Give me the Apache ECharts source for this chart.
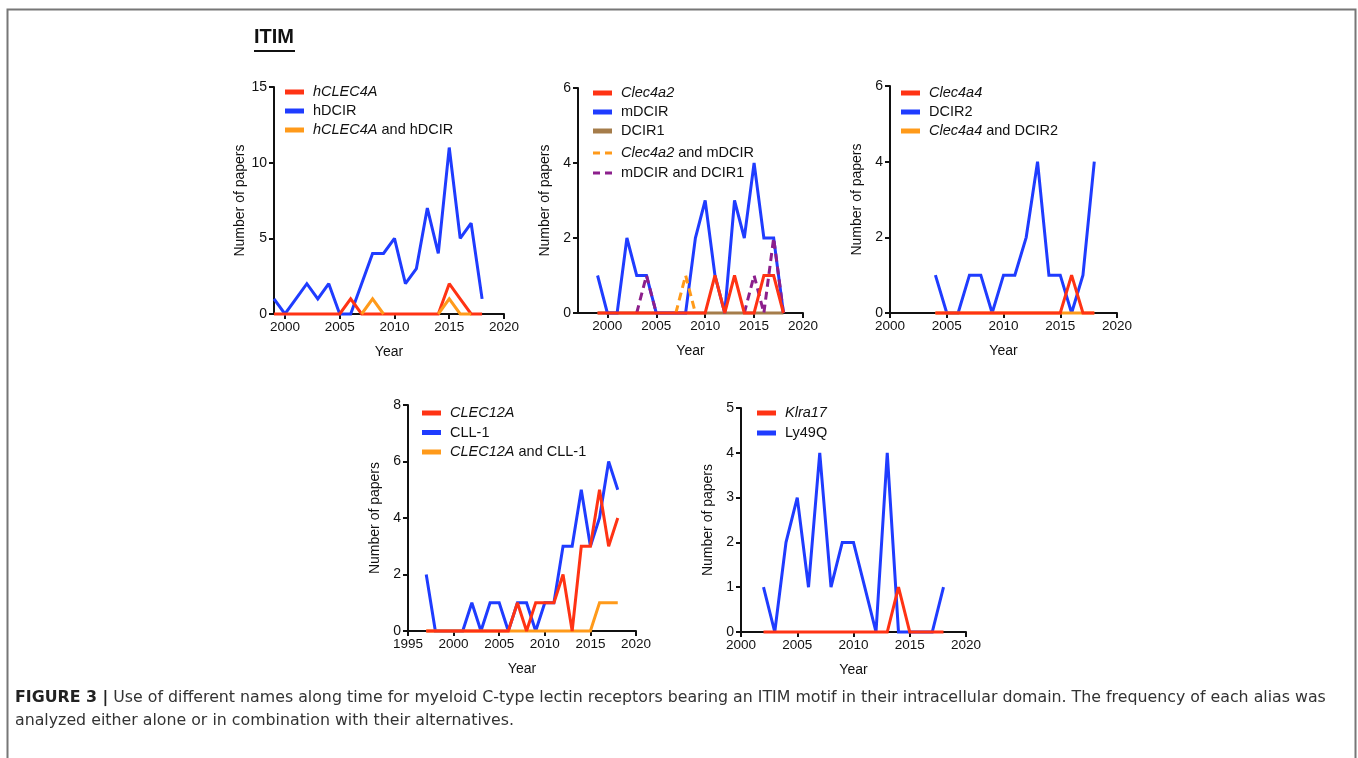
<!DOCTYPE html>
<html>
<head>
<meta charset="utf-8">
<script src="https://cdn.jsdelivr.net/npm/echarts@6/dist/echarts.min.js"></script>
<style>
html,body{margin:0;padding:0;background:#fff;}
#chart{width:1358px;height:758px;}
</style>
</head>
<body>
<div id="chart"></div>
<script>
// ---------- DATA ----------
// Panel 1: hCLEC4A / hDCIR
const p1Years   = [1999,2000,2001,2002,2003,2004,2005,2006,2007,2008,2009,2010,2011,2012,2013,2014,2015,2016,2017,2018];
const p1hCLEC4A = [0,0,0,0,0,0,0,1,0,0,0,0,0,0,0,0,2,1,0,0];
const p1hDCIR   = [1,0,1,2,1,2,0,0,2,4,4,5,2,3,7,4,11,5,6,1];
const p1Both    = [null,null,null,null,null,null,null,null,0,1,0,null,null,null,null,0,1,0,0,null];

// Panel 2: Clec4a2 / mDCIR / DCIR1
const p2Years   = [1999,2000,2001,2002,2003,2004,2005,2006,2007,2008,2009,2010,2011,2012,2013,2014,2015,2016,2017,2018];
const p2Clec4a2 = [0,0,0,0,0,0,0,0,0,0,0,0,1,0,1,0,0,1,1,0];
const p2mDCIR   = [1,0,0,2,1,1,0,0,0,0,2,3,1,0,3,2,4,2,2,0];
const p2DCIR1   = [0,0,0,0,0,0,0,0,0,0,0,0,0,0,0,0,0,0,0,0];
const p2ClecM   = [null,null,null,null,null,null,null,null,0,1,0,null,null,null,null,null,null,null,null,null];
const p2MD1     = [null,null,null,null,0,1,0,null,null,null,null,null,null,null,null,0,1,0,2,0];

// Panel 3: Clec4a4 / DCIR2
const p3Years   = [2004,2005,2006,2007,2008,2009,2010,2011,2012,2013,2014,2015,2016,2017,2018];
const p3Clec4a4 = [0,0,0,0,0,0,0,0,0,0,0,0,1,0,0];
const p3DCIR2   = [1,0,0,1,1,0,1,1,2,4,1,1,0,1,4];
const p3Both    = [0,0,0,0,0,0,0,0,0,0,0,0,0,0,0];

// Panel 4: CLEC12A / CLL-1
const p4Years   = [1997,1998,1999,2000,2001,2002,2003,2004,2005,2006,2007,2008,2009,2010,2011,2012,2013,2014,2015,2016,2017,2018];
const p4CLEC12A = [0,0,0,0,0,0,0,0,0,0,1,0,1,1,1,2,0,3,3,5,3,4];
const p4CLL1    = [2,0,0,0,0,1,0,1,1,0,1,1,0,1,1,3,3,5,3,4,6,5];
const p4Both    = [0,0,0,0,0,0,0,0,0,0,0,0,0,0,0,0,0,0,0,1,1,1];

// Panel 5: Klra17 / Ly49Q
const p5Years   = [2002,2003,2004,2005,2006,2007,2008,2009,2010,2011,2012,2013,2014,2015,2016,2017,2018];
const p5Klra17  = [0,0,0,0,0,0,0,0,0,0,0,0,1,0,0,0,0];
const p5Ly49Q   = [1,0,2,3,1,4,1,2,2,1,0,4,0,0,0,0,1];

// Axis tick labels
const xTicksA = [2000,2005,2010,2015,2020];
const xTicksB = [1995,2000,2005,2010,2015,2020];

const captionBold = 'FIGURE 3 |';
const captionLine1 = ' Use of different names along time for myeloid C-type lectin receptors bearing an ITIM motif in their intracellular domain. The frequency of each alias was';
const captionLine2 = 'analyzed either alone or in combination with their alternatives.';

// ---------- STYLE ----------
const FONT = '"Liberation Sans", Arial, Helvetica, sans-serif';
const CAPFONT = '"DejaVu Sans", "Liberation Sans", sans-serif';
const C = { red:'#ff3314', blue:'#1f3cff', orange:'#ff9a1a', brown:'#a57c4a', purple:'#8c1f8c' };
const italicPrefix = {
  'hCLEC4A':'hCLEC4A', 'hCLEC4A and hDCIR':'hCLEC4A',
  'Clec4a2':'Clec4a2', 'Clec4a2 and mDCIR':'Clec4a2',
  'Clec4a4':'Clec4a4', 'Clec4a4 and DCIR2':'Clec4a4',
  'CLEC12A':'CLEC12A', 'CLEC12A and CLL-1':'CLEC12A',
  'Klra17':'Klra17'
};
const dashedNames = {'Clec4a2 and mDCIR':true, 'mDCIR and DCIR1':true};
const DASH_ICON = 'path://M0,0h7v3h-7z M12,0h7v3h-7z';

function pairs(years, vals){ return years.map((y,i)=>[y, vals[i]==null ? '-' : vals[i]]); }

const grids = [
  {left:274, top:87,  width:230, height:227, xmin:1999, xmax:2020, ymax:15, yint:5, ticks:xTicksA},
  {left:578, top:88,  width:225, height:225, xmin:1997, xmax:2020, ymax:6,  yint:2, ticks:xTicksA},
  {left:890, top:86,  width:227, height:227, xmin:2000, xmax:2020, ymax:6,  yint:2, ticks:xTicksA},
  {left:408, top:405, width:228, height:226, xmin:1995, xmax:2020, ymax:8,  yint:2, ticks:xTicksB},
  {left:741, top:408, width:225, height:224, xmin:2000, xmax:2020, ymax:5,  yint:1, ticks:xTicksA}
];

const axisCol = '#111';
const option = {
  animation:false,
  textStyle:{fontFamily:FONT},
  grid: grids.map(g=>({left:g.left, top:g.top, width:g.width, height:g.height, containLabel:false})),
  xAxis: grids.map((g,i)=>({
    type:'value', gridIndex:i, min:g.xmin, max:g.xmax,
    axisLine:{show:true, onZero:false, lineStyle:{color:axisCol, width:2}},
    axisTick:{show:true, length:5, lineStyle:{color:axisCol, width:2}, customValues:g.ticks},
    axisLabel:{customValues:g.ticks, fontSize:13.5, color:'#111', margin:6, fontFamily:FONT,
      formatter:function(v){ return String(v); }},
    splitLine:{show:false},
    name:'Year', nameLocation:'middle', nameGap:31,
    nameTextStyle:{fontSize:14, color:'#111', fontFamily:FONT}
  })),
  yAxis: grids.map((g,i)=>({
    type:'value', gridIndex:i, min:0, max:g.ymax, interval:g.yint,
    axisLine:{show:true, onZero:false, lineStyle:{color:axisCol, width:2}},
    axisTick:{show:true, length:5, lineStyle:{color:axisCol, width:2}},
    axisLabel:{fontSize:14, color:'#111', margin:7, fontFamily:FONT},
    splitLine:{show:false},
    name:'Number of papers', nameLocation:'middle', nameGap:26,
    nameTextStyle:{fontSize:14, color:'#111', fontFamily:FONT}
  })),
  legend: [],
  series: [],
  graphic: []
};

function addSeries(gi, name, years, vals, color, dashed){
  option.series.push({
    type:'line', name:name, xAxisIndex:gi, yAxisIndex:gi,
    data:pairs(years, vals), showSymbol:false, symbol:'none', clip:false,
    connectNulls:false,
    lineStyle:{color:color, width:3, type: dashed ? [8,5] : 'solid', cap:'butt', join:'miter', miterLimit:2},
    itemStyle:{color:color}, emphasis:{disabled:true}, silent:true
  });
}
function addLegend(names, left, top, gap){
  option.legend.push({
    data:names.map(n=>({name:n, icon: dashedNames[n] ? DASH_ICON : 'rect'})),
    left:left, top:top, orient:'vertical', itemGap:gap,
    itemWidth:19, itemHeight:5, padding:0, selectedMode:false,
    textStyle:{fontSize:14.5, color:'#111', fontFamily:FONT, lineHeight:16, padding:[0,0,0,4],
      rich:{ i:{fontStyle:'italic', fontSize:14.5, color:'#111', fontFamily:FONT, lineHeight:16} } },
    formatter:function(n){
      const p = italicPrefix[n];
      if(p){ return '{i|' + p + '}' + n.slice(p.length); }
      return n;
    }
  });
}

// Panel 1 (orange drawn on top)
addSeries(0,'hDCIR',p1Years,p1hDCIR,C.blue);
addSeries(0,'hCLEC4A',p1Years,p1hCLEC4A,C.red);
addSeries(0,'hCLEC4A and hDCIR',p1Years,p1Both,C.orange);
addLegend(['hCLEC4A','hDCIR','hCLEC4A and hDCIR'],285,84,3);

// Panel 2
addSeries(1,'DCIR1',p2Years,p2DCIR1,C.brown);
addSeries(1,'mDCIR',p2Years,p2mDCIR,C.blue);
addSeries(1,'Clec4a2 and mDCIR',p2Years,p2ClecM,C.orange,true);
addSeries(1,'mDCIR and DCIR1',p2Years,p2MD1,C.purple,true);
addSeries(1,'Clec4a2',p2Years,p2Clec4a2,C.red);
addLegend(['Clec4a2','mDCIR','DCIR1'],593,85,3);
addLegend(['Clec4a2 and mDCIR','mDCIR and DCIR1'],593,145,4);

// Panel 3
addSeries(2,'DCIR2',p3Years,p3DCIR2,C.blue);
addSeries(2,'Clec4a4 and DCIR2',p3Years,p3Both,C.orange);
addSeries(2,'Clec4a4',p3Years,p3Clec4a4,C.red);
addLegend(['Clec4a4','DCIR2','Clec4a4 and DCIR2'],901,85,3);

// Panel 4
addSeries(3,'CLL-1',p4Years,p4CLL1,C.blue);
addSeries(3,'CLEC12A and CLL-1',p4Years,p4Both,C.orange);
addSeries(3,'CLEC12A',p4Years,p4CLEC12A,C.red);
addLegend(['CLEC12A','CLL-1','CLEC12A and CLL-1'],422,405,3.5);

// Panel 5
addSeries(4,'Ly49Q',p5Years,p5Ly49Q,C.blue);
addSeries(4,'Klra17',p5Years,p5Klra17,C.red);
addLegend(['Klra17','Ly49Q'],757,405,4);

// Frame, title, caption
option.graphic = [
  {type:'polyline', silent:true, shape:{points:[[7.5,758],[7.5,9.5],[1355.5,9.5],[1355.5,758]]},
   style:{stroke:'#777', lineWidth:2, fill:null}},
  {type:'text', left:254, top:27, silent:true,
   style:{text:'ITIM', fontSize:20, fontWeight:'bold', fill:'#111', fontFamily:FONT}},
  {type:'rect', silent:true, shape:{x:254, y:50, width:41, height:2}, style:{fill:'#111'}},
  {type:'text', left:15, top:686, silent:true,
   style:{text:'{b|'+captionBold+'}'+captionLine1+'\n'+captionLine2,
     fontSize:15.8, fill:'#333', fontFamily:CAPFONT, lineHeight:23,
     rich:{b:{fontSize:15.8, fontWeight:'bold', fill:'#222', fontFamily:CAPFONT, lineHeight:23}}}}
];

const chart = echarts.init(document.getElementById('chart'), null, {renderer:'canvas'});
chart.setOption(option);
</script>
</body>
</html>
